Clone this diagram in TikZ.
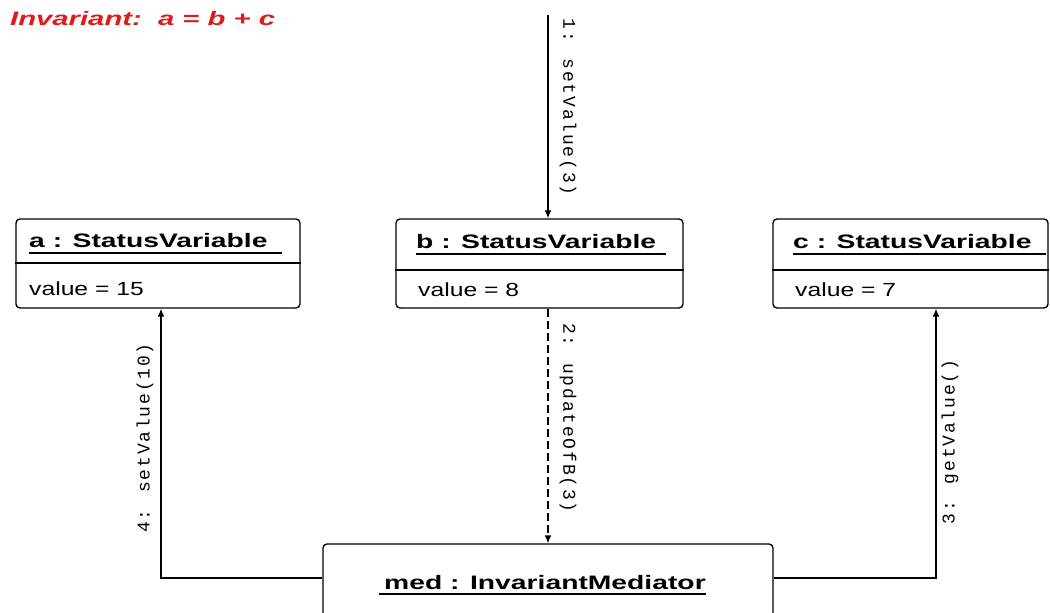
\documentclass[tikz,border=0pt]{standalone}
\usepackage{fontspec}
\setmainfont{Liberation Sans}
\newfontfamily\titlefont[FakeStretch=1.45]{Liberation Sans}
\newfontfamily\notefont[FakeStretch=1.5]{Liberation Sans}
\newfontfamily\valfont[FakeStretch=1.3]{Liberation Sans}
\newfontfamily\msgfont[LetterSpace=10]{Liberation Mono}
\usetikzlibrary{arrows.meta}
\definecolor{invred}{RGB}{225,25,25}
\begin{document}
\begin{tikzpicture}[x=1pt,y=-1pt,
  objbox/.style={draw, line width=1.4pt, rounded corners=4pt, inner sep=0pt},
  objtitle/.style={font=\titlefont\bfseries\fontsize{19.5}{22}\selectfont, anchor=base west, inner sep=0pt},
  objval/.style={font=\valfont\fontsize{19}{22}\selectfont, anchor=base west, inner sep=0pt},
  msg/.style={font=\msgfont\fontsize{18}{20}\selectfont, inner sep=0pt},
  rule/.style={line width=1.4pt},
  uline/.style={line width=1.4pt},
  call/.style={line width=1.4pt, -{Latex[length=8pt,width=7pt]}},
]
\useasboundingbox (0,0) rectangle (1050,613);
\clip (0,0) rectangle (1050,613);

% invariant note
\node[font=\notefont\bfseries\itshape\fontsize{19.5}{22}\selectfont, text=invred, anchor=base west, inner sep=0pt] (inv) at (10,25) {Invariant:\ \ a = b + c};

% object a
\node[objbox, minimum width=284pt, minimum height=89pt] (a) at (158,263.5) {};
\draw[rule] (a.west |- 0,263) -- (a.east |- 0,263);
\node[objtitle] (at) at (29,247) {a : StatusVariable};
\draw[uline] ([yshift=-6pt]at.base west) -- ([xshift=14pt,yshift=-6pt]at.base east);
\node[objval] (av) at (29,295) {value = 15};

% object b
\node[objbox, minimum width=287pt, minimum height=89pt] (b) at (539.5,263.5) {};
\draw[rule] (b.west |- 0,270) -- (b.east |- 0,270);
\node[objtitle] (bt) at (416,248) {b : StatusVariable};
\draw[uline] ([yshift=-6pt]bt.base west) -- ([xshift=10pt,yshift=-6pt]bt.base east);
\node[objval] (bv) at (418,296) {value = 8};

% object c
\node[objbox, minimum width=275pt, minimum height=89pt] (c) at (910.5,263.5) {};
\draw[rule] (c.west |- 0,270) -- (c.east |- 0,270);
\node[objtitle] (ct) at (793,248) {c : StatusVariable};
\draw[uline] ([yshift=-6pt]ct.base west) -- ([xshift=14pt,yshift=-6pt]ct.base east);
\node[objval] (cv) at (795,296) {value = 7};

% mediator
\node[objbox, minimum width=450pt, minimum height=96pt] (med) at (548,592) {};
\node[font=\titlefont\bfseries\fontsize{19.5}{22}\selectfont, anchor=base, inner sep=0pt] (mt) at (545,589) {med : InvariantMediator};
\draw[uline] ([xshift=-5pt,yshift=-5pt]mt.base west) -- ([yshift=-5pt]mt.base east);

% connectors
\coordinate (s1) at (548,15);
\coordinate (k4) at (161,0);
\coordinate (k3) at (936,0);
\draw[call] (s1) -- (s1 |- b.north);
\draw[call, dash pattern=on 8pt off 4pt] (s1 |- b.south) -- (s1 |- med.north);
\draw[call] ([yshift=14pt]med.west) -| (k4 |- a.south);
\draw[call] ([yshift=14pt]med.east) -| (k3 |- c.south);

% labels
\node[msg, rotate=-90] (l1) at (568,107) {1: setValue(3)};
\node[msg, rotate=-90] (l2) at (568,418) {2: updateOfB(3)};
\node[msg, rotate=90] (l4) at (145,438) {4: setValue(10)};
\node[msg, rotate=90] (l3) at (950,442) {3: getValue()};
\end{tikzpicture}
\end{document}
